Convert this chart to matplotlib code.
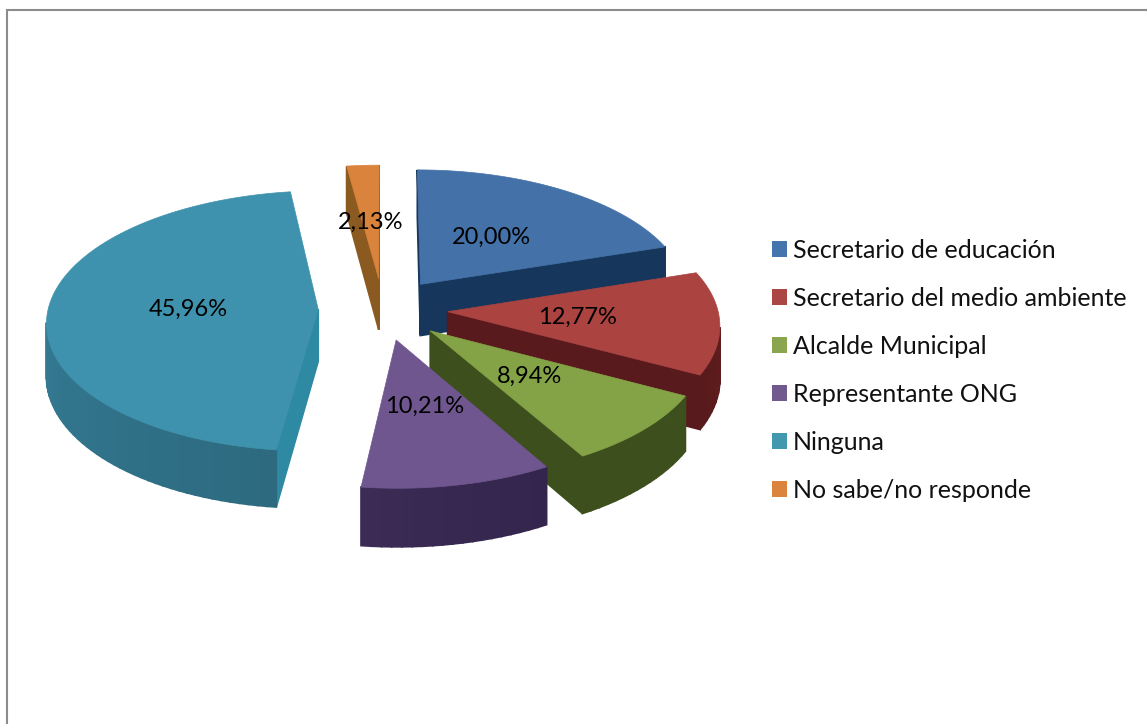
import numpy as np
import matplotlib
matplotlib.use("Agg")
import matplotlib.pyplot as plt
from matplotlib.patches import Polygon, Patch

plt.rcParams['font.family'] = ['Lato', 'DejaVu Sans']

# datos
labels = ['Secretario de educación', 'Secretario del medio ambiente', 'Alcalde Municipal',
          'Representante ONG', 'Ninguna', 'No sabe/no responde']
values = [20.00, 12.77, 8.94, 10.21, 45.96, 2.13]

top_colors = ['#4472a8', '#ab4341', '#84a347', '#70568f', '#3f92ad', '#d9833c']
legend_colors = ['#4575ad', '#aa4643', '#89a54e', '#71588f', '#4198af', '#db843d']
wall_colors = ['#17365c', '#581a1c', '#3d4f1c', '#35264f', '#2e8aa3', '#8a5a20']
rim_start = ['#17365c', '#6a2022', '#3d4f1c', '#33254c', '#2d6a80', '#8a5a20']
rim_end = ['#17365c', '#581a1c', '#3d4f1c', '#3b2b55', '#3a8cA6', '#8a5a20']

# proyeccion de la escena, en pixeles de la figura
CX, CY = 383, 309
R, B = 270, 129
K = 0.09
H = 52
EXPLODE = 0.24
LABEL_R = 0.48


def project(u, v, z=0.0):
    s = 1 / (1 + K * v)
    return CX + R * u * s, CY - B * v * s + H * z * s


def mix(c1, c2, t):
    a = np.array(matplotlib.colors.to_rgb(c1))
    b = np.array(matplotlib.colors.to_rgb(c2))
    return tuple(a + (b - a) * t)


fig = plt.figure(figsize=(11.47, 7.24), dpi=100)
ax = fig.add_axes([0, 0, 1, 1])
ax.set_xlim(0, 1147)
ax.set_ylim(724, 0)
ax.axis('off')

# marco: solo arriba e izquierda
ax.plot([7, 7, 1147], [724, 10, 10], color='#8c8c8c', lw=1.5, solid_joinstyle='miter')

total = sum(values)
edges = np.cumsum([0] + values) / total * 2 * np.pi
mids = (edges[:-1] + edges[1:]) / 2
apex_u = EXPLODE * np.sin(mids)
apex_v = EXPLODE * np.cos(mids)

# de atras hacia adelante
for i in np.argsort(-apex_v):
    t = np.linspace(edges[i], edges[i + 1], max(4, int(values[i] * 2)))
    pu = np.concatenate([[apex_u[i]], apex_u[i] + np.sin(t)])
    pv = np.concatenate([[apex_v[i]], apex_v[i] + np.cos(t)])
    n = len(pu)
    for j in range(n):
        k = (j + 1) % n
        x1, y1 = project(pu[j], pv[j])
        x2, y2 = project(pu[k], pv[k])
        if x2 >= x1:
            continue
        x1b, y1b = project(pu[j], pv[j], 1)
        x2b, y2b = project(pu[k], pv[k], 1)
        if j == 0 or k == 0:
            col = wall_colors[i]
        else:
            col = mix(rim_start[i], rim_end[i], (j - 1) / max(1, n - 3))
        ax.add_patch(Polygon([(x1, y1), (x2, y2), (x2b, y2b), (x1b, y1b)],
                             facecolor=col, edgecolor=col, lw=1.3))
    xt, yt = project(pu, pv)
    ax.add_patch(Polygon(np.column_stack([xt, yt]), facecolor=top_colors[i],
                         edgecolor=top_colors[i], lw=0.5))

for i in range(len(values)):
    lx, ly = project(apex_u[i] + LABEL_R * np.sin(mids[i]), apex_v[i] + LABEL_R * np.cos(mids[i]))
    ax.text(lx, ly, f'{values[i]:.2f}%'.replace('.', ','), ha='center', va='center',
            fontsize=17, color='black', zorder=20)

handles = [Patch(facecolor=c, edgecolor='none') for c in legend_colors]
ax.legend(handles, labels, loc='upper left', bbox_to_anchor=(772, 239), bbox_transform=ax.transData,
          frameon=False, fontsize=18, borderpad=0, borderaxespad=0, handlelength=0.6, handleheight=0.6,
          handletextpad=0.24, labelspacing=1.0, labelcolor='#111111')

fig.savefig('out.png', dpi=100)
